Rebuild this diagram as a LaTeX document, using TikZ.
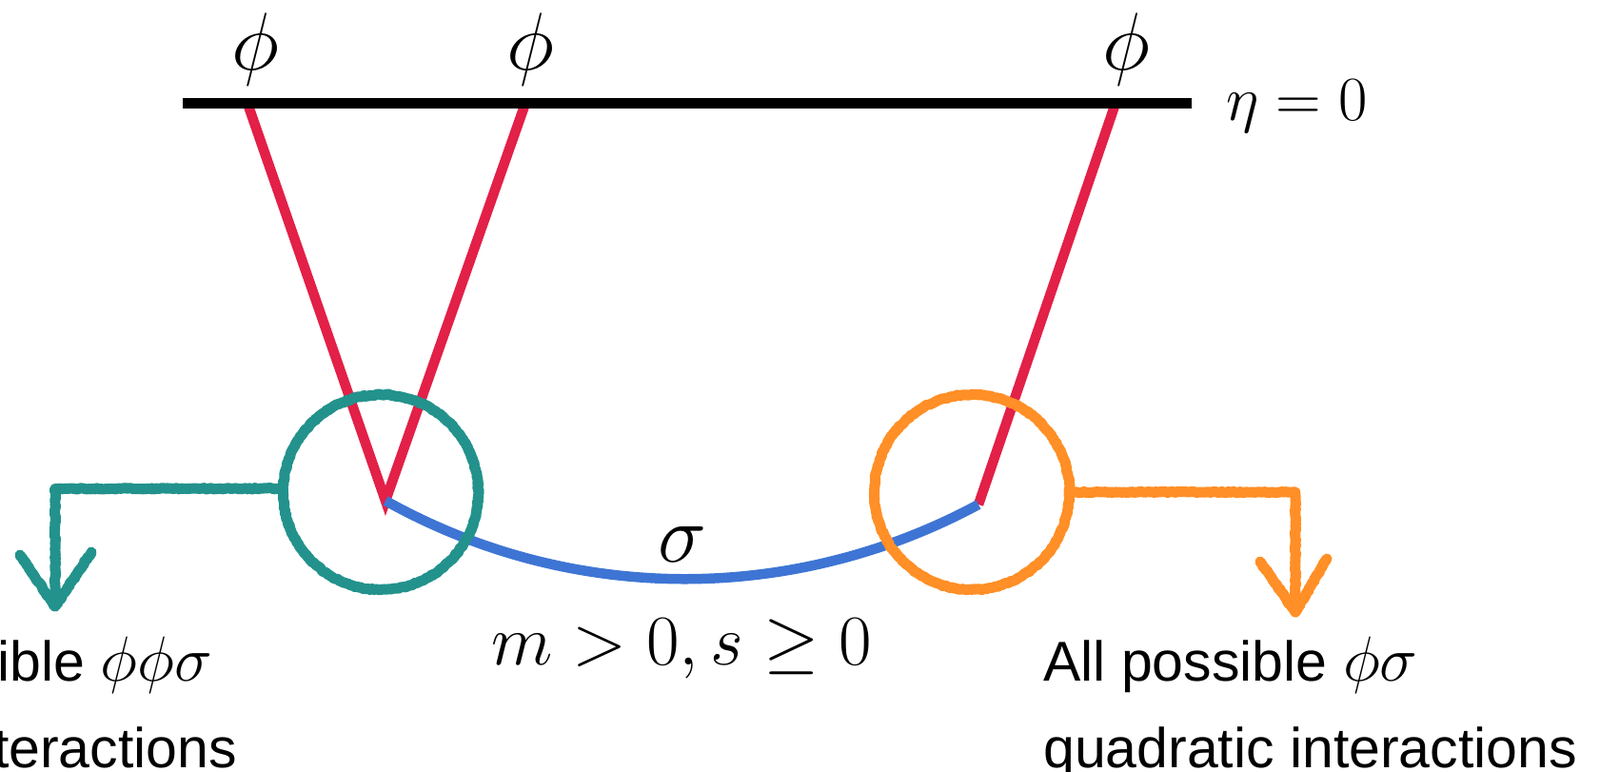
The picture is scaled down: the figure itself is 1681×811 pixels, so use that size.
\RequirePackage{fix-cm}
\documentclass[tikz,border=0pt]{standalone}
\usepackage{fontspec}
\newfontfamily\helv{Liberation Sans}
\usetikzlibrary{decorations.pathmorphing}
\definecolor{tealc}{RGB}{35,146,140}
\definecolor{orangec}{RGB}{255,143,38}
\definecolor{redc}{RGB}{226,32,72}
\definecolor{bluec}{RGB}{62,117,212}
\tikzset{
  redline/.style={draw=redc, line width=10.5pt, line join=miter},
  blueline/.style={draw=bluec, line width=10.5pt},
  blackline/.style={draw=black, line width=11pt},
  chalk/.style={line width=11pt, line cap=round, line join=round,
    decorate, decoration={random steps, segment length=2pt, amplitude=0.7pt}},
  chalkcirc/.style={circle, inner sep=0pt, minimum size=205pt, chalk},
  mlabel/.style={inner sep=0pt, anchor=base, font=\fontsize{86}{86}\selectfont},
  stext/.style={inner sep=0pt, font=\helv\fontsize{59}{70}\selectfont},
}
\newcommand{\bigmath}[1]{{\fontsize{67}{67}\selectfont$#1$}}
\begin{document}
\begin{tikzpicture}[x=1pt,y=-1pt]
\useasboundingbox (0,0) rectangle (1681,811);
% points on the eta=0 line and vertices
\coordinate (L) at (192,108.5);
\coordinate (R) at (1252,108.5);
\coordinate (t1) at (260,108.5);
\coordinate (t2) at (552,108.5);
\coordinate (t3) at (1172,108.5);
\coordinate (v1) at (405,526);
\coordinate (v2) at (1028,530);
% red propagators
\draw[redline] (t1) -- (v1) -- (t2);
\draw[redline] (t3) -- (v2);
% blue sigma propagator
\draw[blueline] (v1) .. controls (600,635) and (833,635) .. (v2);
% boundary
\draw[blackline] (L) -- (R);
% labels
\node[mlabel] (p1) at (268,73) {$\phi$};
\node[mlabel] (p2) at (557,73) {$\phi$};
\node[mlabel] (p3) at (1183,73) {$\phi$};
\node[inner sep=0pt, anchor=base west, font=\fontsize{66}{66}\selectfont] (eta) at (1288,126) {$\eta=0$};
\node[mlabel] (sig) at (717,590) {$\sigma$};
\node[inner sep=0pt, anchor=base, font=\fontsize{75}{75}\selectfont] (ms) at (716,698) {$m>0, s\geq 0$};
% chalk circles
\node[chalkcirc, draw=tealc] (c1) at (400,517) {};
\node[chalkcirc, draw=orangec] (c2) at (1021,517) {};
% teal arrow
\coordinate (k1) at (58,513.4);
\coordinate (a1) at (58,637);
\coordinate (h1) at (21,583);
\coordinate (h2) at (96,580);
\draw[chalk, draw=tealc] (c1.178) -- (k1) -- (a1);
\draw[chalk, draw=tealc] (h1) -- (a1) -- (h2);
% orange arrow
\coordinate (k2) at (1361,517);
\coordinate (a2) at (1361,643);
\coordinate (h3) at (1324,590);
\coordinate (h4) at (1394,587);
\draw[chalk, draw=orangec] (c2.east) -- (k2) -- (a2);
\draw[chalk, draw=orangec] (h3) -- (a2) -- (h4);
% bottom texts
\node[stext, anchor=base east] (l1) at (223,715) {ible \bigmath{\phi\phi\sigma}};
\node[stext, anchor=base east] (l2) at (249,806) {teractions};
\node[stext, anchor=base west] (r1) at (1096,715) {All possible \bigmath{\phi\sigma}};
\node[stext, anchor=base west] (r2) at (1096,806) {quadratic interactions};
\end{tikzpicture}
\end{document}
